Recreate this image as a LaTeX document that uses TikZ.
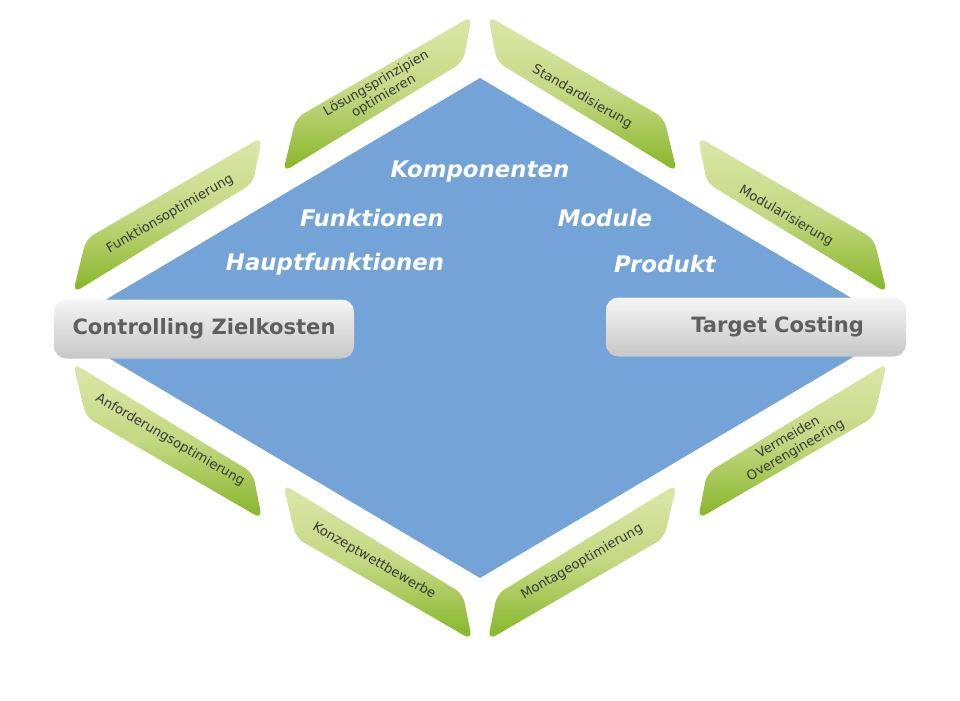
\documentclass[tikz,border=0pt]{standalone}
\usepackage{fontspec}
\setmainfont{DejaVu Sans}
\usetikzlibrary{calc}
\definecolor{diablue}{HTML}{73A3D7}
\definecolor{tablight}{HTML}{DDE7A9}
\definecolor{tabdark}{HTML}{86B526}
\definecolor{txtgray}{HTML}{5F5F5F}
\tikzset{
	tab/.style={rounded corners=5pt,top color=tablight,bottom color=tabdark,middle color=tablight!70!tabdark},
	tablabel/.style={text=txtgray!60!black,font=\fontsize{7.5}{8.5}\selectfont,align=center,inner sep=0pt},
	level/.style={text=white,font=\fontsize{13}{15}\selectfont\bfseries\itshape,inner sep=0pt},
	hub/.style={rounded corners=7pt,top color=white!96!black,bottom color=black!22,minimum width=300*0.02cm,minimum height=59*0.02cm,text=txtgray,font=\fontsize{12}{14}\selectfont\bfseries}
}
\begin{document}
\begin{tikzpicture}[x=0.02cm,y=-0.02cm]
\useasboundingbox (0,0) rectangle (960,700);
% diamond
\fill[diablue] (480,78)coordinate(top) -- (902,328)coordinate(right) -- (480,578)coordinate(bottom) -- (58,328)coordinate(left) -- cycle;
% tabs
\foreach \a/\b/\c/\d in {283/172/296/118,73/293/86/239}{
	\path[tab] (\a,\b) -- (\c,\d) -- ++(176,-102) -- ++(-9,46) -- cycle;
	\path[tab] (960-\a,\b) -- (960-\c,\d) -- ++(-176,-102) -- ++(9,46) -- cycle;
	\path[tab] (\a,656-\b) -- (\c,656-\d) -- ++(176,102) -- ++(-9,-46) -- cycle;
	\path[tab] (960-\a,656-\b) -- (960-\c,656-\d) -- ++(-176,102) -- ++(9,-46) -- cycle;
}
\node[tablabel,rotate=30] (loesung) at (380,90) {Lösungsprinzipien\\optimieren};
\node[tablabel,rotate=30] (funkopt) at (170,214) {Funktionsoptimierung};
\node[tablabel,rotate=-30] (standard) at (582,97) {Standardisierung};
\node[tablabel,rotate=-30] (modular) at (786,216) {Modularisierung};
\node[tablabel,rotate=-30] (anford) at (170,440) {Anforderungsoptimierung};
\node[tablabel,rotate=-30] (konzept) at (374,561) {Konzeptwettbewerbe};
\node[tablabel,rotate=30] (montage) at (582,562) {Montageoptimierung};
\node[tablabel,rotate=30] (overeng) at (792,444) {Vermeiden\\Overengineering};
% levels
\node[level] (komp) at (480,172) {Komponenten};
\node[level] (funk) at (372,218) {Funktionen};
\node[level] (modul) at (605,218) {Module};
\node[level] (haupt) at (335,264) {Hauptfunktionen};
\node[level] (prod) at (665,264) {Produkt};
% hubs
\node[hub] (controlling) at (204,329) {Controlling Zielkosten};
\node[hub,text width=216*0.02cm,align=right] (costing) at (756,327) {Target Costing};
\end{tikzpicture}
\end{document}
